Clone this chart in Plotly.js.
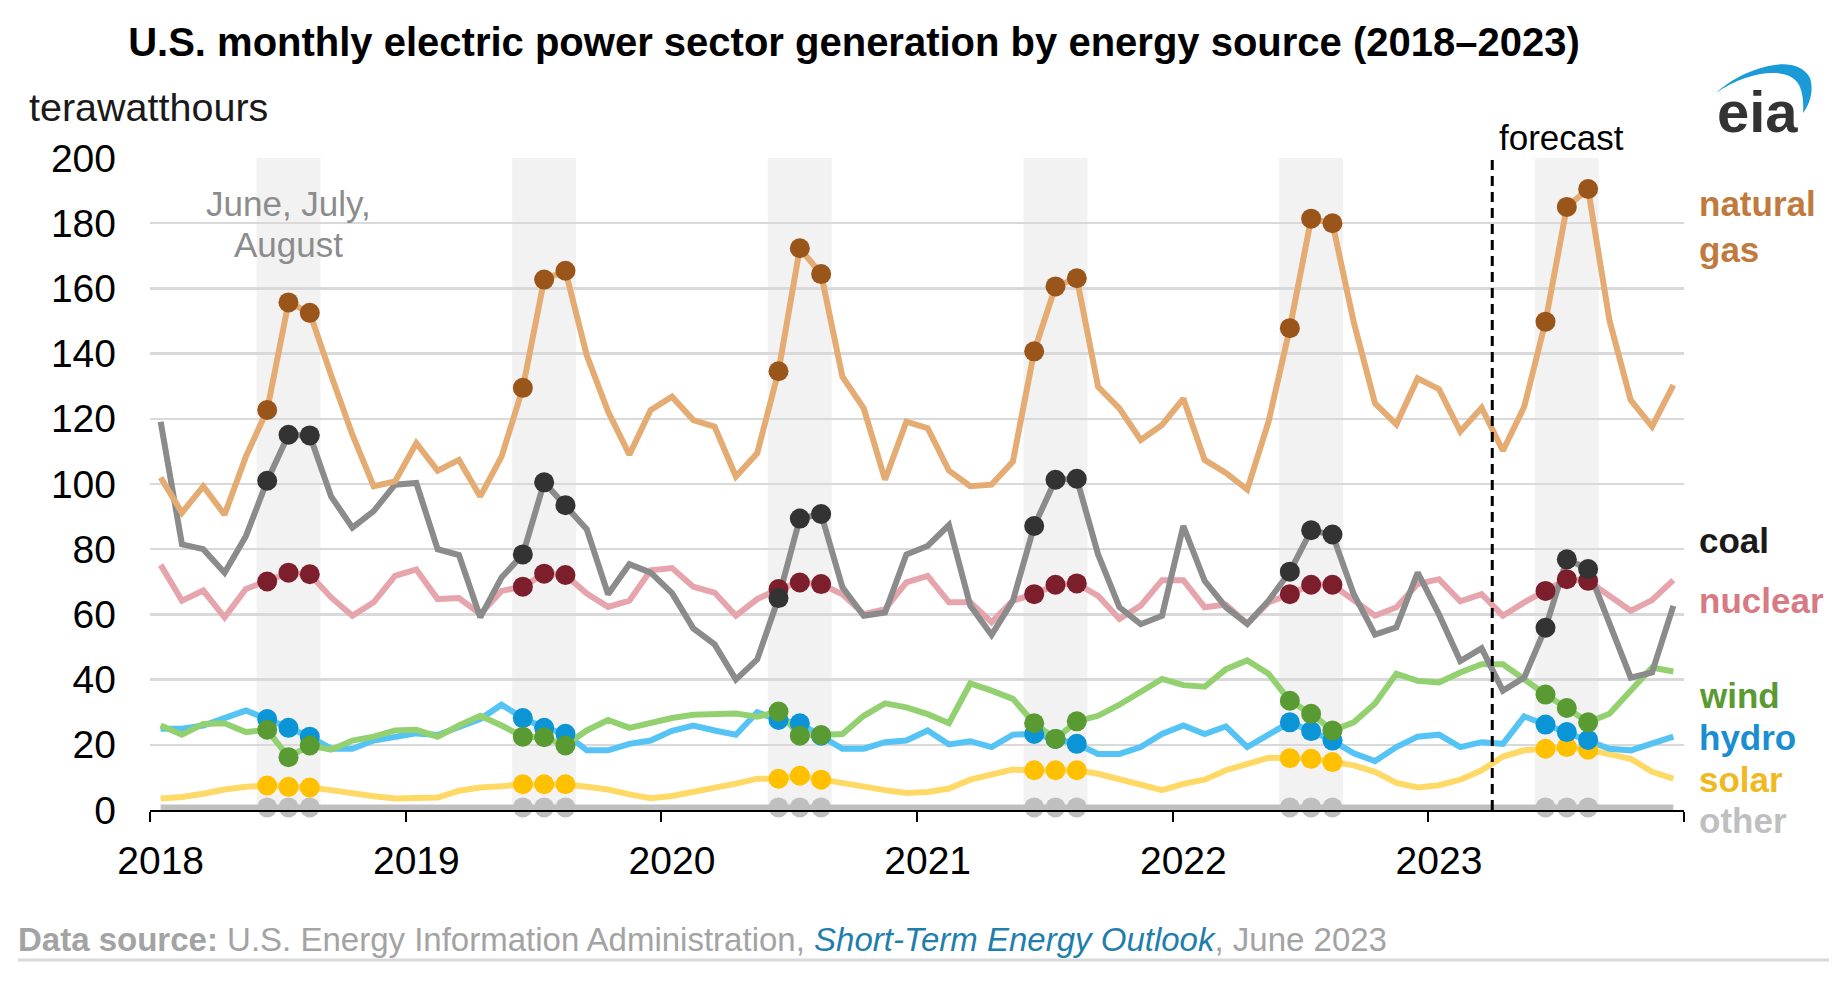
<!DOCTYPE html>
<html>
<head>
<meta charset="utf-8">
<script src="https://cdn.plot.ly/plotly-3.0.1.min.js"></script>
<style>
html,body{margin:0;padding:0;background:#fff;}
#chart{width:1834px;height:995px;}
</style>
</head>
<body>
<div id="chart"></div>
<script>
// ---- data (TWh, monthly Jan 2018 - Dec 2023) ----
const yearLabels = ['2018','2019','2020','2021','2022','2023'];
const naturalGas = [102.0,91.2,99.3,90.6,108.4,122.7,155.7,152.5,133.4,115.1,99.3,100.8,
  112.5,104.1,107.4,96.2,108.4,129.5,162.7,165.4,139.5,122.2,109.0,122.7,
  126.8,119.6,117.6,102.3,109.4,134.6,172.3,164.4,132.9,123.2,101.3,119.1,
  117.1,104.1,99.3,99.8,106.9,140.7,160.6,163.1,129.8,123.2,113.5,118.1,
  126.2,107.4,103.4,98.3,119.1,147.8,181.4,180.0,149.6,124.7,118.3,132.4,
  129.1,116.1,123.4,110.2,123.7,149.8,185.0,190.5,150.2,125.7,117.6,130.3];
const coal = [119.1,81.5,80.0,72.8,84.0,101.0,115.1,114.9,96.2,86.6,91.7,99.8,
  100.3,80.0,78.2,59.1,71.3,78.4,100.5,93.5,86.1,66.2,75.4,72.8,
  66.5,55.7,50.8,40.0,46.2,65.0,89.4,90.8,68.3,59.6,60.6,78.4,
  81.0,87.4,62.7,53.7,64.2,87.1,101.3,101.6,78.4,62.2,57.0,59.6,
  87.1,70.3,62.2,57.1,64.2,73.1,85.8,84.5,66.2,53.8,56.0,72.8,
  60.0,45.7,49.6,36.6,40.6,55.9,76.9,73.9,57.0,40.6,42.2,62.6];
const nuclear = [75.2,64.2,67.3,59.1,67.8,70.1,72.8,72.3,65.2,59.6,63.7,71.8,
  73.8,64.7,65.0,60.1,67.2,68.5,72.5,72.1,66.4,62.3,64.2,73.5,
  74.2,68.5,66.7,59.6,64.7,67.8,69.8,69.3,66.2,60.1,61.6,69.8,
  71.8,63.7,63.7,57.6,64.2,66.2,69.1,69.5,65.7,58.6,62.7,70.5,
  70.5,62.2,63.0,57.1,63.7,66.2,69.1,69.1,64.2,59.6,62.2,69.3,
  70.8,64.0,66.2,59.6,63.7,67.2,70.8,70.3,65.7,61.1,64.4,70.5];
const wind = [25.9,23.1,26.4,26.6,23.9,24.6,16.2,19.8,18.5,21.3,22.5,24.4,
  24.6,22.5,25.9,28.9,25.9,22.5,22.3,19.8,24.4,27.6,25.2,26.9,
  28.2,29.2,29.4,29.6,28.6,30.2,22.8,23.0,23.3,28.9,32.7,31.5,
  29.4,26.6,38.8,36.6,34.1,26.6,21.8,27.2,28.9,32.3,36.1,40.2,
  38.3,37.8,43.2,45.9,41.8,33.5,29.5,24.4,26.9,32.7,41.8,39.6,
  39.1,42.2,44.7,44.7,40.1,35.4,31.3,26.9,29.5,36.6,43.7,42.5];
const hydro = [24.9,24.9,25.9,28.4,30.5,27.9,25.2,22.5,18.8,18.8,21.3,22.3,
  23.5,23.0,25.5,27.9,32.3,28.2,25.2,23.4,18.3,18.3,20.3,21.3,
  24.3,25.9,24.4,23.1,30.0,27.6,26.6,22.8,18.8,18.8,20.8,21.3,
  24.4,20.1,21.1,19.3,23.1,23.3,21.8,20.3,17.2,17.2,19.3,23.3,
  25.9,23.3,25.6,19.3,23.1,26.9,24.2,21.3,17.4,15.0,19.3,22.5,
  23.1,19.3,20.8,20.3,28.7,26.2,23.9,21.5,18.8,18.3,20.3,22.5];
const solar = [3.5,4.0,5.0,6.3,7.1,7.5,7.1,6.9,6.1,5.0,4.2,3.5,
  3.6,3.8,5.9,6.9,7.3,7.9,7.9,7.9,7.1,6.3,4.8,3.6,
  4.3,5.5,6.6,8.1,9.6,9.6,10.5,9.3,8.3,7.3,6.1,5.2,
  5.5,6.6,9.3,10.9,12.4,12.2,12.2,12.2,11.1,9.3,7.8,6.1,
  8.0,9.3,12.2,14.0,16.0,15.9,15.7,14.7,13.7,11.7,8.3,6.9,
  7.6,9.3,12.2,16.4,18.3,18.8,19.3,18.5,17.2,15.7,11.7,9.6];
const other = [0.8,0.8,0.8,0.8,0.8,0.8,0.8,0.8,0.8,0.8,0.8,0.8,
  0.8,0.8,0.8,0.8,0.8,0.8,0.8,0.8,0.8,0.8,0.8,0.8,
  0.8,0.8,0.8,0.8,0.8,0.8,0.8,0.8,0.8,0.8,0.8,0.8,
  0.8,0.8,0.8,0.8,0.8,0.8,0.8,0.8,0.8,0.8,0.8,0.8,
  0.8,0.8,0.8,0.8,0.8,0.8,0.8,0.8,0.8,0.8,0.8,0.8,
  0.8,0.8,0.8,0.8,0.8,0.8,0.8,0.8,0.8,0.8,0.8,0.8];
const summerMonths = [6,7,8];          // June, July, August
const forecastStartMonthIndex = 63;    // April 2023
const yTicks = [0,20,40,60,80,100,120,140,160,180,200];

// ---- styling ----
const FONT = 'Liberation Sans, Arial, Helvetica, sans-serif';
const Y_MAX = 200;
const series = [
  {name:'other',   y:other,      line:'#bfbfbf', dot:'#bfbfbf', label:'#bfbfbf', labelY:-3.1},
  {name:'solar',   y:solar,      line:'#ffd966', dot:'#ffc000', label:'#f0b921', labelY:9.5},
  {name:'hydro',   y:hydro,      line:'#55c4f5', dot:'#0b94d6', label:'#1a8ed0', labelY:22.1},
  {name:'wind',    y:wind,       line:'#93d070', dot:'#5a9a33', label:'#5a9a33', labelY:35.0},
  {name:'nuclear', y:nuclear,    line:'#e6a5ad', dot:'#7c1e2c', label:'#d77a83', labelY:64.4},
  {name:'coal',    y:coal,       line:'#8b8b8b', dot:'#333333', label:'#1a1a1a', labelY:82.8},
  {name:'natural<br>gas', y:naturalGas, line:'#e4ab72', dot:'#9a561a', label:'#c07a3e', labelY:179.1}
];

const n = naturalGas.length;
const xIdx = Array.from({length:n}, (_, i) => i);
const isSummer = i => summerMonths.includes((i % 12) + 1);
const summerIdx = xIdx.filter(isSummer);

const traces = [];
series.forEach(s => {
  traces.push({x:xIdx, y:s.y, type:'scatter', mode:'lines', cliponaxis:false,
    line:{color:s.line, width:6}, hoverinfo:'skip', showlegend:false});
});
series.forEach(s => {
  traces.push({x:summerIdx, y:summerIdx.map(i => s.y[i]), type:'scatter', mode:'markers', cliponaxis:false,
    marker:{color:s.dot, size:20, line:{width:0}}, hoverinfo:'skip', showlegend:false});
});

// ---- shapes ----
const shapes = [];
const firstSummer = Math.min(...summerMonths) - 1, lastSummer = Math.max(...summerMonths) - 1;
yearLabels.forEach((yl, k) => {
  shapes.push({type:'rect', layer:'below', xref:'x', yref:'paper',
    x0: 12*k + firstSummer - 0.5, x1: 12*k + lastSummer + 0.5, y0:0, y1:1,
    fillcolor:'#f2f2f2', line:{width:0}});
});
shapes.push({type:'line', layer:'above', xref:'x', yref:'paper',
  x0: forecastStartMonthIndex - 0.5, x1: forecastStartMonthIndex - 0.5, y0:0, y1:1,
  line:{color:'#000', width:3, dash:'10px,6px'}});
// source underline
shapes.push({type:'line', xref:'paper', yref:'paper', x0:(18-150)/1534, x1:(1829-150)/1534,
  y0:(810-960)/652, y1:(810-960)/652, line:{color:'#d9d9d9', width:3}});
// eia logo arc (pixel path converted to paper)
const arcPx = 'M 1716 93 C 1740 70 1795 50 1810 78 C 1814 90 1810 104 1803 113 C 1804 100 1802 88 1797 82 C 1785 66 1745 72 1716 93 Z';
let tog = 0;
const arcPath = arcPx.replace(/-?\d+(\.\d+)?/g, m => {
  const v = +m; const r = (tog % 2 === 0) ? (v-150)/1534 : (810-v)/652; tog++; return r.toFixed(5);
});
shapes.push({type:'path', xref:'paper', yref:'paper', path:arcPath, fillcolor:'#1a9ad6', line:{width:0}});

// ---- annotations ----
const annotations = [];
series.forEach(s => {
  annotations.push({text:'<b>'+s.name+'</b>', xref:'paper', yref:'paper', x:(1697-150)/1534, y:s.labelY / Y_MAX,
    xanchor:'left', yanchor:'middle', align:'left', showarrow:false,
    font:{family:FONT, size:35, color:s.label}});
});
annotations.push({text:'terawatthours', xref:'paper', yref:'paper', x:(27-150)/1534, y:(810-107)/652,
  xanchor:'left', yanchor:'middle', showarrow:false, font:{family:FONT, size:39.5, color:'#1a1a1a'}});
annotations.push({text:'June, July,', xref:'x', yref:'y', x:6, y:186.0, xanchor:'center', yanchor:'middle',
  showarrow:false, font:{family:FONT, size:35, color:'#8c8c8c'}});
annotations.push({text:'August', xref:'x', yref:'y', x:6, y:173.5, xanchor:'center', yanchor:'middle',
  showarrow:false, font:{family:FONT, size:35, color:'#8c8c8c'}});
annotations.push({text:'forecast', xref:'x', yref:'paper', x:forecastStartMonthIndex - 0.5, xshift:5,
  y:(810-137)/652, xanchor:'left', yanchor:'middle', showarrow:false,
  font:{family:FONT, size:35, color:'#000'}});
annotations.push({text:'<b>eia</b>', xref:'paper', yref:'paper', x:(1757-150)/1534, y:(810-112)/652,
  xanchor:'center', yanchor:'middle', showarrow:false, font:{family:FONT, size:58, color:'#333333'}});
annotations.push({text:'<b>Data source:</b> U.S. Energy Information Administration, <i><span style="color:#1f7eac">Short-Term Energy Outlook</span></i>, June 2023',
  xref:'paper', yref:'paper', x:(16-150)/1534, y:(810-939)/652, xanchor:'left', yanchor:'middle',
  showarrow:false, font:{family:FONT, size:33, color:'#a3a3a3'}});

const yearTickVals = yearLabels.map((_, k) => 12*k);
const yearBoundaries = yearLabels.map((_, k) => 12*k - 0.5).concat([12*yearLabels.length - 0.5]);

const layout = {
  width:1834, height:995,
  margin:{l:150, r:150, t:158, b:185, pad:0},
  paper_bgcolor:'#fff', plot_bgcolor:'rgba(0,0,0,0)',
  font:{family:FONT, color:'#000'},
  title:{text:'<b>U.S. monthly electric power sector generation by energy source (2018–2023)</b>',
    xref:'container', yref:'container', x:854/1834, y:1-42/995, xanchor:'center', yanchor:'middle',
    font:{family:FONT, size:40, color:'#000'}},
  xaxis:{range:[-0.5, 12*yearLabels.length - 0.5], tickmode:'array', tickvals:yearTickVals, ticktext:yearLabels,
    ticks:'', ticklabelstandoff:15, tickfont:{family:FONT, size:39, color:'#000'},
    showgrid:false, zeroline:false, showline:true, linecolor:'#000', linewidth:2,
    minor:{tickmode:'array', tickvals:yearBoundaries, ticks:'outside', ticklen:10, tickwidth:2, tickcolor:'#000', showgrid:false},
    fixedrange:true},
  yaxis:{range:[0,Y_MAX], tickmode:'array', tickvals:yTicks, ticks:'', ticklabelstandoff:33,
    tickfont:{family:FONT, size:39, color:'#000'}, showgrid:true, gridcolor:'#d9d9d9', gridwidth:2.5,
    zeroline:false, showline:false, fixedrange:true},
  shapes:shapes, annotations:annotations, showlegend:false, hovermode:false
};

Plotly.newPlot('chart', traces, layout, {displayModeBar:false, staticPlot:true});
</script>
</body>
</html>
